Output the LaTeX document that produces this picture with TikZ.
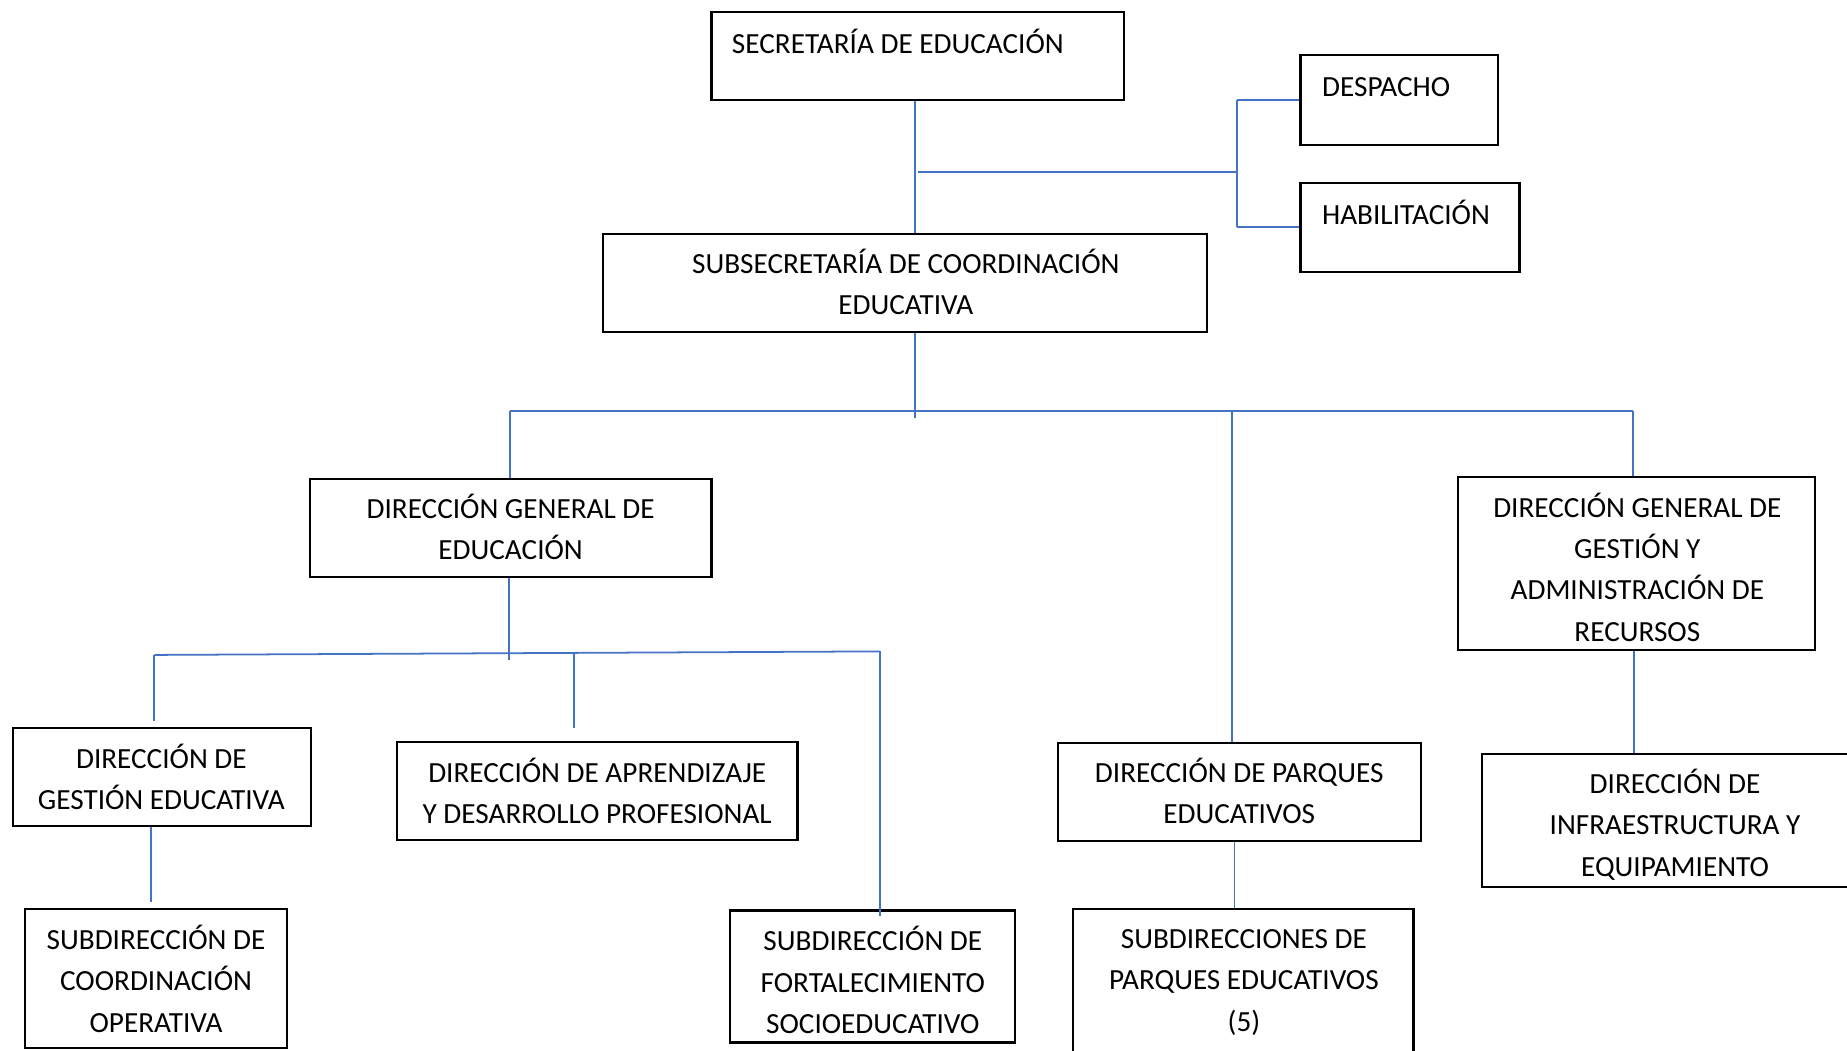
\documentclass[tikz,border=0pt]{standalone}
\usepackage{fontspec}
\setmainfont{Carlito}
\usetikzlibrary{calc}
\definecolor{lineblue}{HTML}{4472C4}
\tikzset{
  box/.style={draw=black, line width=0.9pt, minimum width=#1, inner sep=0pt},
  txt/.style={font=\fontsize{12.4}{17.5}\selectfont, align=center, inner sep=0pt},
  conn/.style={draw=lineblue, line width=0.75pt},
}
\begin{document}
\begin{tikzpicture}[x=0.5pt,y=-0.5pt]
\useasboundingbox (0,0) rectangle (1568,892);
\clip (0,0) rectangle (1568,892);
% boxes
\node[box=175pt, minimum height=37.5pt] (sec) at (779,47.5) {};
\node[box=84pt, minimum height=38pt] (desp) at (1188,85) {};
\node[box=93pt, minimum height=38pt] (hab) at (1197,193) {};
\node[box=256.5pt, minimum height=41.5pt] (sub) at (768.5,240.5) {};
\node[box=170.5pt, minimum height=41.5pt] (dge) at (433.5,448.5) {};
\node[box=151.5pt, minimum height=73.5pt] (dgg) at (1389.5,478.5) {};
\node[box=126.5pt, minimum height=41.5pt] (dgeo) at (137.5,659.5) {};
\node[box=170pt, minimum height=41.5pt] (dap) at (507,671.5) {};
\node[box=154pt, minimum height=41.5pt] (dpq) at (1052,672.5) {};
\node[box=166pt, minimum height=56.5pt] (dinf) at (1424,696.5) {};
\node[box=111.5pt, minimum height=59pt] (scoop) at (132.5,831) {};
\node[box=121pt, minimum height=56pt] (sfort) at (741,829) {};
\node[box=144.5pt, minimum height=66.5pt] (spq) at (1055.5,838.5) {};
% texts
\node[txt, anchor=west] (tsec) at (621,35) {SECRETARÍA DE EDUCACIÓN};
\node[txt, anchor=west] (tdesp) at (1122,74) {DESPACHO};
\node[txt, anchor=west] (thab) at (1122,180) {HABILITACIÓN};
\node[txt] (tsub) at (769,239.5) {SUBSECRETARÍA DE COORDINACIÓN\\EDUCATIVA};
\node[txt] (tdge) at (433.5,447.5) {DIRECCIÓN GENERAL DE\\EDUCACIÓN};
\node[txt] (tdgg) at (1390,481.5) {DIRECCIÓN GENERAL DE\\GESTIÓN Y\\ADMINISTRACIÓN DE\\RECURSOS};
\node[txt] (tdgeo) at (137,659.5) {DIRECCIÓN DE\\GESTIÓN EDUCATIVA};
\node[txt] (tdap) at (507,671.5) {DIRECCIÓN DE APRENDIZAJE\\Y DESARROLLO PROFESIONAL};
\node[txt] (tdpq) at (1052,671.5) {DIRECCIÓN DE PARQUES\\EDUCATIVOS};
\node[txt] (tdinf) at (1422,700) {DIRECCIÓN DE\\INFRAESTRUCTURA Y\\EQUIPAMIENTO};
\node[txt] (tscoop) at (132.5,831) {SUBDIRECCIÓN DE\\COORDINACIÓN\\OPERATIVA};
\node[txt] (tsfort) at (741,832) {SUBDIRECCIÓN DE\\FORTALECIMIENTO\\SOCIOEDUCATIVO};
\node[txt] (tspq) at (1056,834) {SUBDIRECCIONES DE\\PARQUES EDUCATIVOS\\(5)};
% junction coordinates
\coordinate (sj) at (1050,146);
\coordinate (bus) at (777,349);
\coordinate (bl) at (433,349);
\coordinate (bm) at (1046,349);
\coordinate (br) at (1386,349);
\coordinate (busend) at (777,355);
\coordinate (b2l) at (131,556);
\coordinate (b2c) at (432,555);
\coordinate (b2m) at (487,555);
\coordinate (b2r) at (747,553);
\coordinate (b2cend) at (432,560);
\coordinate (e1) at (131,612);
\coordinate (e2) at (487,618);
\coordinate (e3) at (747,778);
\coordinate (e4) at (128,766);
\coordinate (pq) at (1048,0);
\coordinate (gg) at (1387,0);
% connectors
\draw[conn] (sec.south -| bus) -- (sub.north -| bus);
\draw[conn] (sec.south |- sj) -- (sj);
\draw[conn] (desp.west -| sj) -- (hab.west -| sj);
\draw[conn] (desp.west -| sj) -- (desp.west);
\draw[conn] (hab.west -| sj) -- (hab.west);
\draw[conn] (sub.south -| bus) -- (busend);
\draw[conn] (bl) -- (br);
\draw[conn] (bl) -- (dge.north -| bl);
\draw[conn] (br) -- (dgg.north -| br);
\draw[conn] (bm) -- (dpq.north -| bm);
\draw[conn] (dge.south -| b2c) -- (b2cend);
\draw[conn] (b2l) -- (b2r);
\draw[conn] (b2l) -- (e1);
\draw[conn] (b2m) -- (e2);
\draw[conn] (b2r) -- (e3);
\draw[conn] (dgeo.south -| e4) -- (e4);
\draw[conn] (dpq.south -| pq) -- (spq.north -| pq);
\draw[conn] (dgg.south -| gg) -- (dinf.north -| gg);
\end{tikzpicture}
\end{document}
